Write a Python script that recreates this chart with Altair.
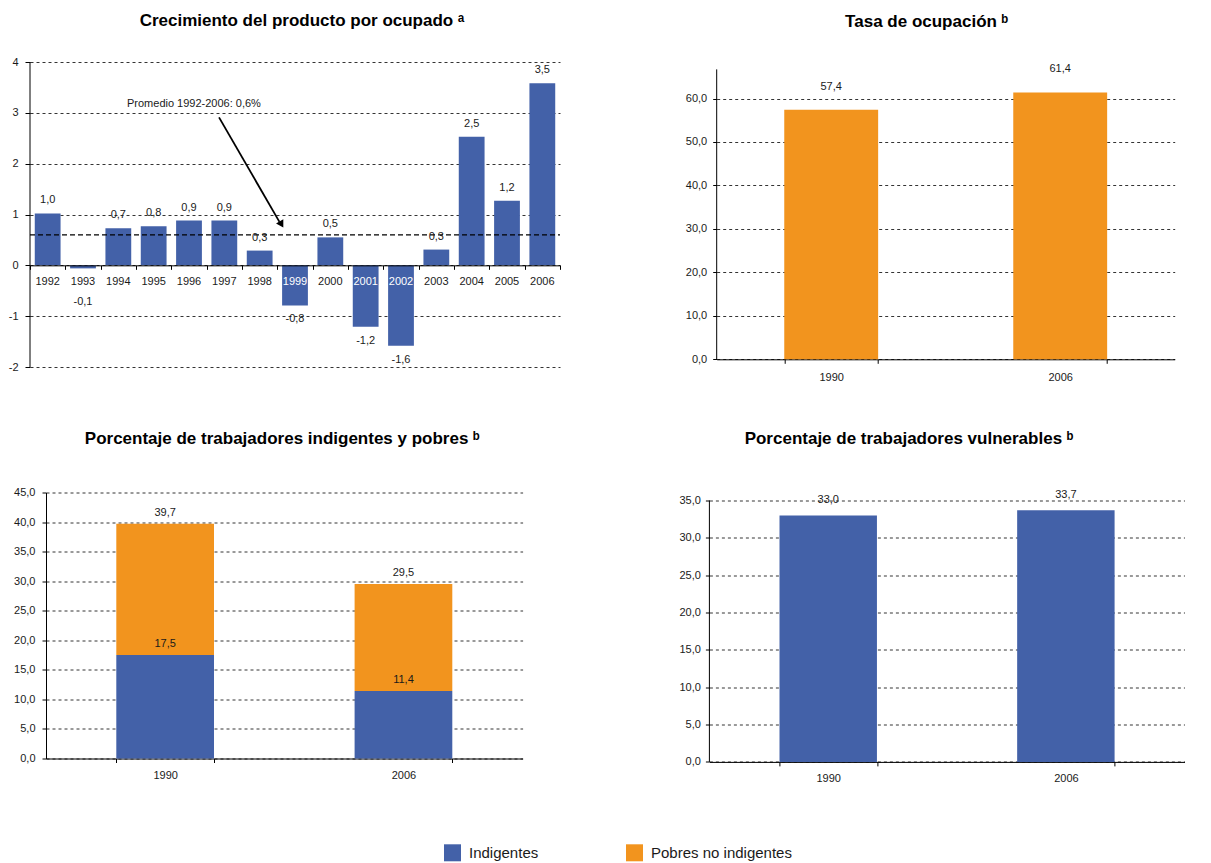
import json
import altair as alt
import pandas as pd

# ---------------- data ----------------
# Panel 1: Crecimiento del producto por ocupado
years = ["1992", "1993", "1994", "1995", "1996", "1997", "1998", "1999",
         "2000", "2001", "2002", "2003", "2004", "2005", "2006"]
growth = [1.02, -0.06, 0.73, 0.77, 0.88, 0.88, 0.29, -0.79,
          0.55, -1.21, -1.58, 0.31, 2.53, 1.27, 3.58]
growth_labels = ["1,0", "-0,1", "0,7", "0,8", "0,9", "0,9", "0,3", "-0,8",
                 "0,5", "-1,2", "-1,6", "0,3", "2,5", "1,2", "3,5"]
white_label_years = ["1999", "2001", "2002"]
growth_axis_range = [-2, 4]
average_growth = [0.6]
note_text = ["Promedio 1992-2006: 0,6%"]
note_x = [4.64]
note_y = [3.18]
arrow_x = [5.35, 7.06]
arrow_y = [2.91, 0.855]
head_x = [7.10]
head_y = [0.825]

# Panel 2: Tasa de ocupación
periods = ["1990", "2006"]
occupation = [57.4, 61.4]
occupation_axis_top = [66.7]

# Panel 3: Porcentaje de trabajadores indigentes y pobres
series_names = ["Indigentes", "Pobres no indigentes"]
indigent = [17.5, 11.4]
poor_total = [39.7, 29.5]

# Panel 4: Porcentaje de trabajadores vulnerables
vulnerable = [33.0, 33.7]
vulnerable_axis_top = [35.0]

BLUE = "#4361A8"
ORANGE = "#F2941E"
TXT = "#1a1a1a"
FONT = "Liberation Sans"


def comma(v):
    return f"{v:.1f}".replace(".", ",")


COMMA_EXPR = "replace(format(datum.value, '.1f'), '.', ',')"


def y_axis(values, label_expr, tick=4, pad=6, min_extent=None, domain=True,
           offset=0):
    kw = dict(values=values, labelExpr=label_expr, grid=True, gridDash=[3, 3],
              gridColor="#000000", gridWidth=0.8, domain=domain,
              domainColor="black", tickColor="black", tickSize=tick,
              labelPadding=pad, labelFontSize=11, labelColor=TXT, title=None)
    if min_extent is not None:
        kw["minExtent"] = min_extent
    if offset:
        kw["offset"] = offset
    return alt.Axis(**kw)


def x_axis(pad=8):
    return alt.Axis(labelAngle=0, tickBand="extent", domainColor="black",
                    tickColor="black", tickSize=4, labelPadding=pad,
                    labelFontSize=11, labelColor=TXT, grid=False, title=None)


# ---------------- panel 1 ----------------
# The first column of the layout is aligned on panel 3's wider y axis, so the
# panel-1 plot group starts SHIFT px to the right of its own axis.
W1, H1, SHIFT = 530, 305, 16
n_years = len(years)
df1 = pd.DataFrame({"idx": list(range(n_years)), "year": years,
                    "value": growth, "label": growth_labels})
white_test = "indexof(" + json.dumps(white_label_years) + ", datum.year) >= 0"
x1_axis = alt.Axis(values=list(range(n_years + 1)), labels=False, orient="bottom",
                   offset=-(H1 - H1 * 4 / 6), zindex=1, domainColor="black",
                   tickColor="black", tickSize=4, grid=False, title=None)
xs1 = alt.Scale(domain=[0, n_years], range=[-SHIFT, W1 - SHIFT], nice=False,
                zero=False, padding=0)
ys1 = alt.Scale(domain=growth_axis_range, nice=False, padding=0)
y1_axis = y_axis([-2, -1, 0, 1, 2, 3, 4], "toString(datum.value)",
                 tick=5, pad=7, min_extent=22, domain=False, offset=SHIFT)


def X1(f):
    return alt.X(f, type="quantitative", scale=xs1, axis=x1_axis, title=None)


def Y1(f):
    return alt.Y(f, type="quantitative", scale=ys1, axis=y1_axis, title=None)


base1 = alt.Chart(df1).transform_calculate(
    x0="datum.idx + 0.135", x1="datum.idx + 0.865", xc="datum.idx + 0.5",
    zero="0", pos="min(datum.value, -0.45)")
bars1 = base1.mark_bar(color=BLUE).encode(
    x=X1("x0"), x2="x1:Q", y=Y1("value"), y2="zero:Q")
year_lab = base1.mark_text(dy=17, fontSize=11).encode(
    x=X1("xc"), y=Y1("zero"), text="year:N",
    color=alt.condition(white_test, alt.value("white"), alt.value(TXT)))
pos_lab = base1.transform_filter("datum.value >= 0").mark_text(
    dy=-13, fontSize=11, color=TXT).encode(x=X1("xc"), y=Y1("value"), text="label:N")
neg_lab = base1.transform_filter("datum.value < 0").mark_text(
    dy=14, fontSize=11, color=TXT).encode(x=X1("xc"), y=Y1("pos"), text="label:N")
yline1 = alt.Chart(pd.DataFrame({"xv": [0], "lo": [growth_axis_range[0]],
                                 "hi": [growth_axis_range[1]]})).mark_rule(
    color="black", strokeWidth=1).encode(x=X1("xv"), y=Y1("lo"), y2="hi:Q")
avg_rule = alt.Chart(pd.DataFrame({"avg": average_growth, "a0": [0],
                                   "a1": [n_years]})).mark_rule(
    color="black", strokeDash=[5, 3], strokeWidth=1.2).encode(
    x=X1("a0"), x2="a1:Q", y=Y1("avg"))
arrow = alt.Chart(pd.DataFrame({"ax": arrow_x, "ay": arrow_y})).mark_line(
    color="black", strokeWidth=1.8).encode(x=X1("ax"), y=Y1("ay"))
head = alt.Chart(pd.DataFrame({"hx": head_x, "hy": head_y})).mark_point(
    shape="triangle", filled=True, angle=150, size=70, color="black",
    opacity=1).encode(x=X1("hx"), y=Y1("hy"))
note = alt.Chart(pd.DataFrame({"nx": note_x, "ny": note_y, "t": note_text})).mark_text(
    fontSize=11, color=TXT).encode(x=X1("nx"), y=Y1("ny"), text="t:N")

p1 = alt.layer(bars1, yline1, avg_rule, year_lab, pos_lab, neg_lab,
               arrow, head, note).properties(
    width=W1, height=H1,
    title=alt.TitleParams("Crecimiento del producto por ocupado ᵃ", offset=26, dx=-9))

# ---------------- panel 2 ----------------
H2 = 297.3
df2 = pd.DataFrame({"period": periods, "value": occupation,
                    "label": [comma(v) for v in occupation]})
x2 = alt.X("period:N", sort=periods,
           scale=alt.Scale(paddingInner=0.59, paddingOuter=0.295), axis=x_axis(pad=8))
ys2 = alt.Scale(domain=[0, 68.4], nice=False)
y2_axis = y_axis([0, 10, 20, 30, 40, 50, 60], COMMA_EXPR, pad=6, min_extent=34,
                 domain=False)
p2 = alt.layer(
    alt.Chart(df2).mark_bar(color=ORANGE).encode(
        x=x2, y=alt.Y("value:Q", scale=ys2, axis=y2_axis)),
    alt.Chart(df2).mark_text(dy=-23, fontSize=11, color=TXT).encode(
        x=x2, y=alt.Y("value:Q", scale=ys2, axis=y2_axis), text="label:N"),
    alt.Chart(pd.DataFrame({"lo": [0.0], "hi": occupation_axis_top})).mark_rule(
        color="black", strokeWidth=1).encode(
        x=alt.value(0), y=alt.Y("lo:Q", scale=ys2, axis=y2_axis), y2="hi:Q"),
).properties(width=458, height=H2,
             title=alt.TitleParams("Tasa de ocupación ᵇ", offset=31.5, dx=-19))

# ---------------- panel 3 ----------------
rows3 = []
for p, ind, tot in zip(periods, indigent, poor_total):
    rows3.append({"period": p, "serie": series_names[0], "value": ind, "ord": 0})
    rows3.append({"period": p, "serie": series_names[1], "value": round(tot - ind, 1), "ord": 1})
df3 = pd.DataFrame(rows3)
lab3 = pd.DataFrame({"period": periods * 2,
                     "pos": indigent + poor_total,
                     "label": [comma(v) for v in indigent + poor_total]})
x3 = alt.X("period:N", sort=periods,
           scale=alt.Scale(paddingInner=0.59, paddingOuter=0.295), axis=x_axis(pad=7))
ys3 = alt.Scale(domain=[0, 45], nice=False)
y3_axis = y_axis([0, 5, 10, 15, 20, 25, 30, 35, 40, 45], COMMA_EXPR, pad=7,
                 min_extent=38)
legend = alt.Legend(orient="none", legendX=398, legendY=782.3, direction="horizontal",
                    title=None, symbolType="square", symbolSize=289,
                    symbolStrokeWidth=0, symbolOpacity=1, labelFontSize=15,
                    labelFont=FONT, labelColor=TXT, labelOffset=8, columnPadding=87)
p3 = alt.layer(
    alt.Chart(df3).mark_bar().encode(
        x=x3, y=alt.Y("sum(value):Q", scale=ys3, axis=y3_axis),
        color=alt.Color("serie:N", scale=alt.Scale(domain=series_names,
                                                   range=[BLUE, ORANGE]),
                        legend=legend),
        order=alt.Order("ord:Q")),
    alt.Chart(lab3).mark_text(dy=-11, fontSize=11, color=TXT).encode(
        x=x3, y=alt.Y("pos:Q", scale=ys3, axis=y3_axis), text="label:N"),
).properties(width=476.6, height=266,
             title=alt.TitleParams("Porcentaje de trabajadores indigentes y pobres ᵇ",
                                   offset=38.8, dx=-2))

# ---------------- panel 4 ----------------
H4 = 269.4
df4 = pd.DataFrame({"period": periods, "value": vulnerable,
                    "label": [comma(v) for v in vulnerable]})
x4 = alt.X("period:N", sort=periods,
           scale=alt.Scale(paddingInner=0.59, paddingOuter=0.295), axis=x_axis(pad=7))
ys4 = alt.Scale(domain=[0, 36.07], nice=False)
y4_axis = y_axis([0, 5, 10, 15, 20, 25, 30, 35], COMMA_EXPR, pad=5, min_extent=34,
                 domain=False)
p4 = alt.layer(
    alt.Chart(df4).mark_bar(color=BLUE).encode(
        x=x4, y=alt.Y("value:Q", scale=ys4, axis=y4_axis)),
    alt.Chart(df4).mark_text(dy=-15, fontSize=11, color=TXT).encode(
        x=x4, y=alt.Y("value:Q", scale=ys4, axis=y4_axis), text="label:N"),
    alt.Chart(pd.DataFrame({"lo": [0.0], "hi": vulnerable_axis_top})).mark_rule(
        color="black", strokeWidth=1).encode(
        x=alt.value(0), y=alt.Y("lo:Q", scale=ys4, axis=y4_axis), y2="hi:Q"),
).properties(width=475.3, height=H4,
             title=alt.TitleParams("Porcentaje de trabajadores vulnerables ᵇ",
                                   offset=41.5, dx=-38))

row1 = alt.hconcat(p1, p2, spacing=106.7)
row2 = alt.hconcat(p3, p4, spacing=152.4)
chart = alt.vconcat(row1, row2, spacing=46.5).properties(
    padding={"left": 0, "top": 4, "right": 0, "bottom": 0}).configure(
    font=FONT).configure_view(stroke=None).configure_title(
    font=FONT, fontSize=17, fontWeight="bold", color="black", anchor="middle",
    frame="group").configure_text(font=FONT).configure_axis(
    labelFont=FONT, labelColor=TXT)

chart.save("out.html", embed_options={"renderer": "svg", "actions": False})
